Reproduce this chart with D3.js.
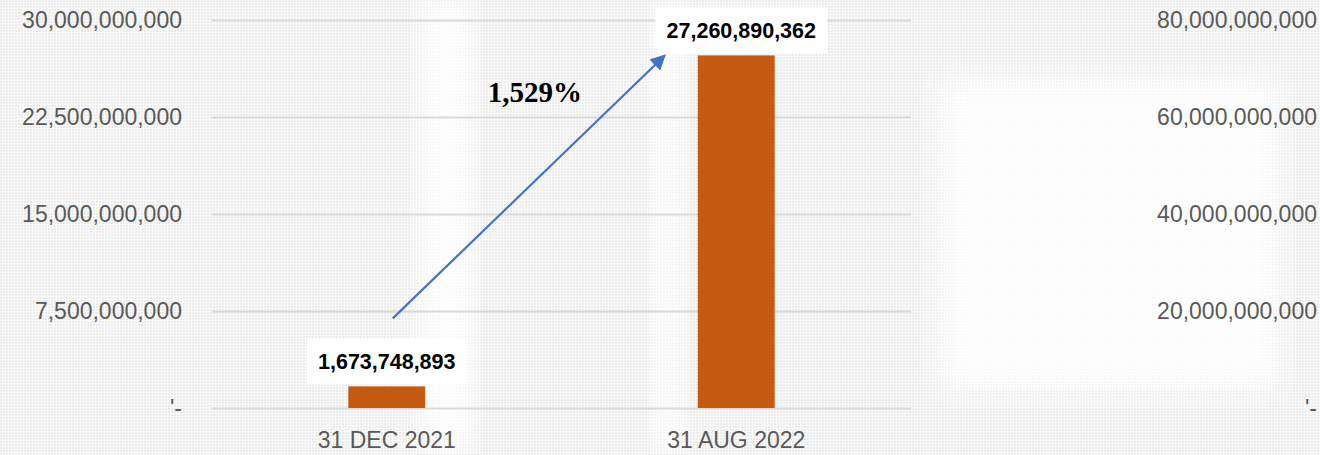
<!DOCTYPE html>
<html>
<head>
<meta charset="utf-8">
<script src="https://cdn.jsdelivr.net/npm/d3@7"></script>
<style>
  html, body { margin: 0; padding: 0; background: #fff; }
  svg { display: block; font-family: "Liberation Sans", Arial, Helvetica, sans-serif; }
</style>
</head>
<body>
<svg id="chart" width="1320" height="455"></svg>
<script>
const categories = ['31 DEC 2021', '31 AUG 2022'];
const values = [1673748893, 27260890362];
const leftTicks = [0, 7500000000, 15000000000, 22500000000, 30000000000];
const rightTicks = [0, 20000000000, 40000000000, 60000000000, 80000000000];

const svg = d3.select('#chart');
const margin = { top: 20, right: 409, bottom: 47, left: 212 };
const width = 1320 - margin.left - margin.right;
const height = 455 - margin.top - margin.bottom;

// faint dotted backdrop
const defs = svg.append('defs');
const pat = defs.append('pattern')
  .attr('id', 'dots')
  .attr('width', 3).attr('height', 3)
  .attr('patternUnits', 'userSpaceOnUse');
pat.append('rect').attr('width', 3).attr('height', 3).attr('fill', '#fbfbfb');
pat.append('rect').attr('width', 2).attr('height', 2).attr('fill', '#ebebeb');

defs.append('filter').attr('id', 'soft')
  .attr('x', '-20%').attr('y', '-20%').attr('width', '140%').attr('height', '140%')
  .append('feGaussianBlur').attr('stdDeviation', 12);

svg.append('rect').attr('width', 1320).attr('height', 455).attr('fill', 'url(#dots)');
const light = [[420, 0, 52, 455], [653, 0, 30, 455], [940, 80, 340, 310]];
svg.selectAll('rect.light').data(light).join('rect')
  .attr('class', 'light')
  .attr('x', d => d[0]).attr('y', d => d[1])
  .attr('width', d => d[2]).attr('height', d => d[3])
  .attr('fill', '#fff').attr('opacity', 0.8)
  .attr('filter', 'url(#soft)');

const x = d3.scaleBand()
  .domain(categories)
  .range([margin.left, margin.left + width])
  .paddingInner(0.78)
  .paddingOuter(0.39);

const y = d3.scaleLinear()
  .domain([0, 30000000000])
  .range([margin.top + height, margin.top]);

const y2 = d3.scaleLinear()
  .domain([0, 80000000000])
  .range([margin.top + height, margin.top]);

const fmt = d3.format(',');
const tickFmt = v => v === 0 ? "'-" : fmt(v);

// gridlines
svg.append('g')
  .attr('transform', `translate(${margin.left},0)`)
  .call(d3.axisLeft(y).tickValues(leftTicks).tickSize(-width).tickFormat(''))
  .call(g => g.select('.domain').remove())
  .call(g => g.selectAll('line').attr('stroke', '#d9d9d9').attr('stroke-width', 2));

// left axis
svg.append('g')
  .attr('transform', `translate(${margin.left},0)`)
  .call(d3.axisLeft(y).tickValues(leftTicks).tickSize(0).tickPadding(30).tickFormat(tickFmt))
  .call(g => g.select('.domain').remove())
  .call(g => g.selectAll('text')
    .attr('font-size', 23).attr('fill', '#595959')
    .style('font-family', '"Liberation Sans", Arial, sans-serif'));

// right axis
svg.append('g')
  .attr('transform', `translate(${margin.left + width},0)`)
  .call(d3.axisRight(y2).tickValues(rightTicks).tickSize(0).tickFormat(tickFmt))
  .call(g => g.select('.domain').remove())
  .call(g => g.selectAll('text')
    .attr('x', 1317 - margin.left - width)
    .attr('text-anchor', 'end')
    .attr('font-size', 23).attr('fill', '#595959')
    .style('font-family', '"Liberation Sans", Arial, sans-serif'));

// category axis
svg.append('g')
  .attr('transform', `translate(0,${margin.top + height})`)
  .call(d3.axisBottom(x).tickSize(0).tickPadding(24))
  .call(g => g.select('.domain').remove())
  .call(g => g.selectAll('text')
    .attr('font-size', 23).attr('fill', '#595959')
    .style('font-family', '"Liberation Sans", Arial, sans-serif'));

// bars
svg.append('g')
  .selectAll('rect')
  .data(values)
  .join('rect')
  .attr('x', (d, i) => x(categories[i]))
  .attr('width', x.bandwidth())
  .attr('y', d => y(d))
  .attr('height', d => y(0) - y(d))
  .attr('fill', '#C55A11');

// value labels with white boxes
const labels = svg.append('g')
  .selectAll('g')
  .data(values)
  .join('g')
  .attr('transform', (d, i) => {
    const cx = x(categories[i]) + x.bandwidth() / 2 + (i === 1 ? 5 : 0);
    const cy = Math.max(y(d) - 25, margin.top + 3);
    return `translate(${cx},${cy})`;
  });

labels.append('rect').attr('fill', '#fff');
labels.append('text')
  .attr('text-anchor', 'middle')
  .attr('dy', '0.35em')
  .attr('font-size', 21.5)
  .attr('font-weight', 'bold')
  .attr('fill', '#000')
  .text(d => fmt(d));

labels.each(function () {
  const g = d3.select(this);
  const bb = g.select('text').node().getBBox();
  g.select('rect')
    .attr('x', bb.x - 11).attr('y', -23)
    .attr('width', bb.width + 22).attr('height', 46);
});

// growth arrow
defs.append('marker')
  .attr('id', 'head')
  .attr('viewBox', '0 0 10 10')
  .attr('refX', 9).attr('refY', 5)
  .attr('markerWidth', 9).attr('markerHeight', 7)
  .attr('markerUnits', 'strokeWidth')
  .attr('orient', 'auto')
  .append('path')
  .attr('d', 'M0,0 L10,5 L0,10 Z')
  .attr('fill', '#4472C4');

const x0 = x(categories[0]) + x.bandwidth() / 2 + 6;
const y0 = y(values[0]) - 68;
const x1 = x(categories[1]) - 33;
const y1 = y(values[1]);

svg.append('line')
  .attr('x1', x0).attr('y1', y0)
  .attr('x2', x1).attr('y2', y1)
  .attr('stroke', '#4472C4')
  .attr('stroke-width', 2.2)
  .attr('marker-end', 'url(#head)');

const growth = Math.round((values[1] / values[0] - 1) * 100);
svg.append('text')
  .attr('x', (x0 + x1) / 2 + 6)
  .attr('y', y(23650000000))
  .attr('text-anchor', 'middle')
  .attr('font-family', '"Liberation Serif", "Times New Roman", serif')
  .attr('font-size', 29)
  .attr('font-weight', 'bold')
  .attr('fill', '#000')
  .text(fmt(growth) + '%');
</script>
</body>
</html>
